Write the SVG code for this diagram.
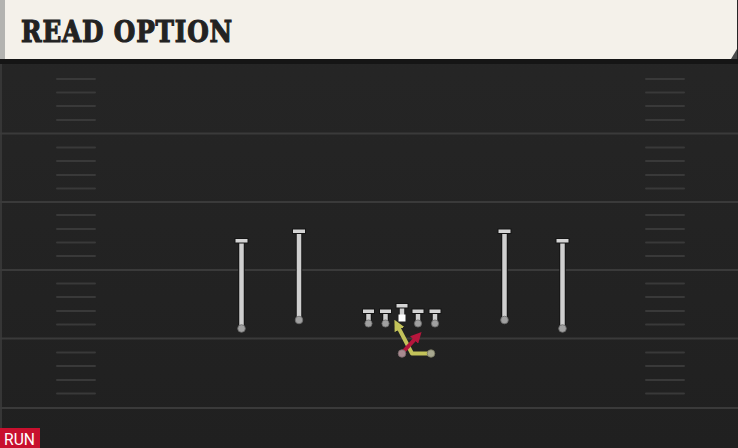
<svg xmlns="http://www.w3.org/2000/svg" width="738" height="448" viewBox="0 0 738 448">
<defs>
<linearGradient id="fieldGrad" x1="0" y1="0" x2="0" y2="1">
<stop offset="0" stop-color="#262626"/>
<stop offset="1" stop-color="#202020"/>
</linearGradient>
<marker id="arrY" viewBox="0 0 10 10" refX="2" refY="5" markerWidth="11" markerHeight="11" markerUnits="userSpaceOnUse" orient="auto">
<path d="M0,0 L10,5 L0,10 z" fill="#c3c35a"/>
</marker>
<marker id="arrR" viewBox="0 0 10 10" refX="2" refY="5" markerWidth="11" markerHeight="11" markerUnits="userSpaceOnUse" orient="auto">
<path d="M0,0 L10,5 L0,10 z" fill="#b5163c"/>
</marker>
</defs>
<style>
.yard { stroke: #3a3a3a; stroke-width: 2; }
.hash { stroke: #393939; stroke-width: 2; stroke-linecap: round; }
.stemO { stroke: #151515; stroke-width: 6.5; }
.stem { stroke: #cfcfcf; stroke-width: 4.5; }
.tbar { fill: #d4d4d4; stroke: #151515; stroke-width: 1; }
.dot { fill: #a0a0a0; stroke: #6a6a6a; stroke-width: 0.8; }
.title { font-family: "DejaVu Serif", "Liberation Serif", serif; font-weight: bold; font-size: 30px; fill: #222222; stroke: #222222; stroke-width: 1.2; letter-spacing: 1px; }
.run { font-family: "Roboto", "Liberation Sans", sans-serif; font-size: 17px; fill: #ffffff; }
</style>

<!-- field -->
<rect x="0" y="0" width="738" height="448" fill="url(#fieldGrad)"/>
<rect x="0" y="59" width="738" height="5" fill="#151515"/>
<rect x="0" y="64" width="2" height="384" fill="#363636"/>

<g id="yard-lines">
<line class="yard" x1="0" y1="133.5" x2="738" y2="133.5"/>
<line class="yard" x1="0" y1="202" x2="738" y2="202"/>
<line class="yard" x1="0" y1="270" x2="738" y2="270"/>
<line class="yard" x1="0" y1="338.5" x2="738" y2="338.5"/>
<line class="yard" x1="0" y1="408" x2="738" y2="408"/>
</g>

<g id="hash-marks">
<path class="hash" d="M57 79H95M57 92.5H95M57 106H95M57 120H95M57 147.5H95M57 161H95M57 175H95M57 188.5H95M57 215H95M57 229H95M57 242.5H95M57 256H95M57 283.5H95M57 297H95M57 311H95M57 324.5H95M57 352.5H95M57 366H95M57 380H95M57 393.5H95"/>
<path class="hash" d="M646 79H684M646 92.5H684M646 106H684M646 120H684M646 147.5H684M646 161H684M646 175H684M646 188.5H684M646 215H684M646 229H684M646 242.5H684M646 256H684M646 283.5H684M646 297H684M646 311H684M646 324.5H684M646 352.5H684M646 366H684M646 380H684M646 393.5H684"/>
</g>

<!-- header -->
<g id="header">
<rect x="0" y="0" width="737" height="59" fill="#f4f1ea"/>
<rect x="0" y="0" width="5" height="59" fill="#b3b3b0"/>
<path d="M731 59 L737 49 L737 59 z" fill="#4a4a4a"/>
<text class="title" x="21" y="42" textLength="212" lengthAdjust="spacingAndGlyphs">READ OPTION</text>
</g>

<!-- receivers -->
<g id="wr1">
<line class="stemO" x1="241.5" y1="241" x2="241.5" y2="328"/>
<line class="stem" x1="241.5" y1="241" x2="241.5" y2="328"/>
<rect class="tbar" x="235" y="238.5" width="13" height="4.5"/>
<circle class="dot" cx="241.5" cy="328.5" r="3.8"/>
</g>
<g id="wr2">
<line class="stemO" x1="299" y1="231.5" x2="299" y2="319.5"/>
<line class="stem" x1="299" y1="231.5" x2="299" y2="319.5"/>
<rect class="tbar" x="292.5" y="229" width="13" height="4.5"/>
<circle class="dot" cx="299" cy="320" r="3.8"/>
</g>
<g id="wr3">
<line class="stemO" x1="504.5" y1="231.5" x2="504.5" y2="319.5"/>
<line class="stem" x1="504.5" y1="231.5" x2="504.5" y2="319.5"/>
<rect class="tbar" x="498" y="229" width="13" height="4.5"/>
<circle class="dot" cx="504.5" cy="320" r="3.8"/>
</g>
<g id="wr4">
<line class="stemO" x1="562.5" y1="241" x2="562.5" y2="328"/>
<line class="stem" x1="562.5" y1="241" x2="562.5" y2="328"/>
<rect class="tbar" x="556" y="238.5" width="13" height="4.5"/>
<circle class="dot" cx="562.5" cy="328.5" r="3.8"/>
</g>

<!-- offensive line -->
<g id="lt">
<line class="stemO" x1="368.5" y1="311" x2="368.5" y2="322"/>
<line class="stem" x1="368.5" y1="311" x2="368.5" y2="322"/>
<rect class="tbar" x="362.5" y="309" width="12" height="4.5"/>
<circle class="dot" cx="368.5" cy="323.5" r="3.6"/>
</g>
<g id="lg">
<line class="stemO" x1="385.5" y1="311" x2="385.5" y2="322"/>
<line class="stem" x1="385.5" y1="311" x2="385.5" y2="322"/>
<rect class="tbar" x="379.5" y="309" width="12" height="4.5"/>
<circle class="dot" cx="385.5" cy="323.5" r="3.6"/>
</g>
<g id="rg">
<line class="stemO" x1="418" y1="311" x2="418" y2="322"/>
<line class="stem" x1="418" y1="311" x2="418" y2="322"/>
<rect class="tbar" x="412" y="309" width="12" height="4.5"/>
<circle class="dot" cx="418" cy="323.5" r="3.6"/>
</g>
<g id="rt">
<line class="stemO" x1="435" y1="311" x2="435" y2="322"/>
<line class="stem" x1="435" y1="311" x2="435" y2="322"/>
<rect class="tbar" x="429" y="309" width="12" height="4.5"/>
<circle class="dot" cx="435" cy="323.5" r="3.6"/>
</g>

<!-- connectors / routes -->
<g id="routes">
<path d="M430 353.5 L412 353.5 L398.5 327.6" fill="none" stroke="#c3c35a" stroke-width="4" stroke-linejoin="round" marker-end="url(#arrY)"/>
<path d="M404 351 L415.6 338.4" fill="none" stroke="#b5163c" stroke-width="4" marker-end="url(#arrR)"/>
</g>

<g id="center">
<line class="stemO" x1="402" y1="306" x2="402" y2="316"/>
<line class="stem" x1="402" y1="306" x2="402" y2="316"/>
<rect class="tbar" x="396" y="303.5" width="12" height="4.5"/>
<rect x="398.5" y="314.5" width="7" height="7" fill="#ffffff"/>
</g>

<g id="qb">
<circle cx="402" cy="353.5" r="3.8" fill="#a88a90" stroke="#7a6a6c" stroke-width="0.8"/>
</g>
<g id="rb">
<circle cx="431" cy="353.5" r="3.8" fill="#a8a890" stroke="#76765e" stroke-width="0.8"/>
</g>

<!-- run tag -->
<g id="run-tag">
<rect x="0" y="428" width="40" height="20" fill="#c8102e"/>
<text class="run" x="4" y="445" textLength="31" lengthAdjust="spacingAndGlyphs">RUN</text>
</g>
</svg>
